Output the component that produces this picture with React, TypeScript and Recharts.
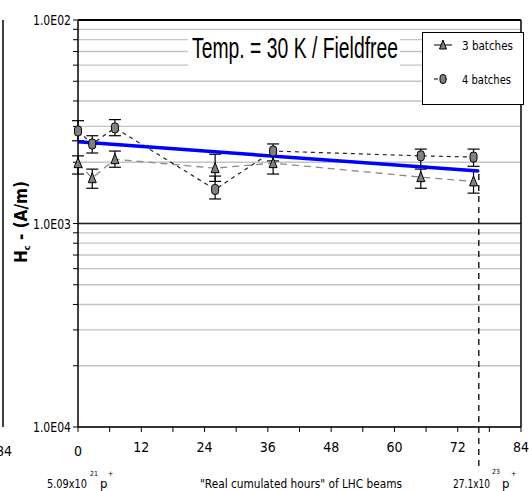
import React from 'react';
import { LineChart, Line, XAxis, YAxis, CartesianGrid, ErrorBar, ReferenceLine } from 'recharts';

// "Real cumulated hours" of LHC beams
const hours = [0, 2.7, 7, 26, 37, 65, 75];

// 4 batches (circle markers)
const hc4 = [2.85e-3, 2.46e-3, 2.95e-3, 1.47e-3, 2.27e-3, 2.15e-3, 2.12e-3];
const hc4Hi = [3.2e-3, 2.7e-3, 3.24e-3, 1.71e-3, 2.46e-3, 2.32e-3, 2.32e-3];
const hc4Lo = [2.55e-3, 2.22e-3, 2.7e-3, 1.32e-3, 2.03e-3, 1.91e-3, 1.91e-3];

// 3 batches (triangle markers)
const hc3 = [1.98e-3, 1.67e-3, 2.07e-3, 1.87e-3, 1.98e-3, 1.69e-3, 1.61e-3];
const hc3Hi = [2.15e-3, 1.85e-3, 2.27e-3, 2.19e-3, 2.15e-3, 1.85e-3, 1.81e-3];
const hc3Lo = [1.75e-3, 1.49e-3, 1.89e-3, 1.61e-3, 1.75e-3, 1.49e-3, 1.41e-3];

// blue trend line
const trendHours = [0, 76];
const trendHc = [2.52e-3, 1.81e-3];

const xTicks = [0, 6, 12, 18, 24, 30, 36, 42, 48, 54, 60, 66, 72, 78, 84];
const xLabelTicks = [12, 24, 36, 48, 60, 72, 84];
const yTicks = [
  0.0001, 0.0002, 0.0003, 0.0004, 0.0005, 0.0006, 0.0007, 0.0008, 0.0009,
  0.001, 0.002, 0.003, 0.004, 0.005, 0.006, 0.007, 0.008, 0.009, 0.01,
];
const yLabels: Record<string, string> = { '0.0001': '1.0E04', '0.001': '1.0E03', '0.01': '1.0E02' };

const NARROW = '"Liberation Sans Narrow", "DejaVu Sans Condensed", "Liberation Sans", Arial, sans-serif';
const SANS = '"Liberation Sans", Arial, sans-serif';

const data4 = hours.map((x, i) => ({ x, y: hc4[i], err: [hc4[i] - hc4Lo[i], hc4Hi[i] - hc4[i]] }));
const data3 = hours.map((x, i) => ({ x, y: hc3[i], err: [hc3[i] - hc3Lo[i], hc3Hi[i] - hc3[i]] }));
const trendData = trendHours.map((x, i) => ({ x, y: trendHc[i] }));

const YTick = (props: any) => {
  const { x, y, payload } = props;
  const lab = yLabels[String(payload.value)];
  if (!lab) return <g />;
  return (
    <text x={x} y={y} dy={5} textAnchor="end" fontSize={14} fontFamily={NARROW} fill="#000"
      textLength={38} lengthAdjust="spacingAndGlyphs">{lab}</text>
  );
};

const xFmt = (v: number) => (xLabelTicks.includes(Number(v)) ? String(v) : '');

const CircleDot = (props: any) => {
  const { cx, cy, index } = props;
  if (cx == null || cy == null) return <g key={`c${index}`} />;
  return <rect key={`c${index}`} x={cx - 3.5} y={cy - 5} width={7} height={10} rx={3} fill="#808080" stroke="#000" strokeWidth={1} />;
};

const TriDot = (props: any) => {
  const { cx, cy, index } = props;
  if (cx == null || cy == null) return <g key={`t${index}`} />;
  return (
    <polygon key={`t${index}`} points={`${cx},${cy - 5.5} ${cx - 4},${cy + 4.5} ${cx + 4},${cy + 4.5}`}
      fill="#808080" stroke="#000" strokeWidth={1} />
  );
};

const VLineShape = (props: any) => {
  const { x1, y1, x2, y2 } = props;
  return <line x1={x1} y1={y1} x2={x2} y2={y2 + 43} stroke="#000" strokeWidth={1.3} strokeDasharray="6 5" />;
};

const ZeroLabel = (props: any) => {
  const vb = props.viewBox || {};
  const x = vb.x ?? 78;
  const y = (vb.y ?? 20) + (vb.height ?? 407);
  return (
    <text x={x} y={y + 29} textAnchor="middle" fontSize={14} fontFamily={NARROW} fill="#000">0</text>
  );
};

export default function App() {
  return (
    <div style={{ position: 'absolute', left: 0, top: 0, width: 529, height: 491, background: '#fff', overflow: 'hidden' }}>
      <LineChart width={529} height={491} margin={{ top: 20, right: 8, bottom: 34, left: 0 }}>
        <CartesianGrid vertical={false} stroke="#c4c4c4" strokeWidth={1.3} />
        <XAxis type="number" dataKey="x" domain={[0, 84]} ticks={xTicks} interval={0} tickFormatter={xFmt}
          tick={{ fontSize: 14, fontFamily: NARROW, fill: '#000', dy: 8 }}
          tickSize={5} height={30} axisLine={{ stroke: '#000', strokeWidth: 1.5 }}
          tickLine={{ stroke: '#000' }} />
        <YAxis type="number" scale="log" domain={[0.0001, 0.01]} ticks={yTicks} interval={0} tick={<YTick />}
          tickSize={5} width={78} allowDataOverflow axisLine={{ stroke: '#000', strokeWidth: 1.5 }}
          tickLine={{ stroke: '#000' }} />
        <ReferenceLine y={0.001} stroke="#222" strokeWidth={1.5} />
        <ReferenceLine y={0.01} stroke="#000" strokeWidth={1.8} />
        <ReferenceLine x={84} stroke="#000" strokeWidth={1.5} />
        <ReferenceLine x={0} stroke="none" label={<ZeroLabel />} />
        <ReferenceLine segment={[{ x: 76, y: 1.75e-3 }, { x: 76, y: 0.0001 }]} shape={<VLineShape />} />
        <Line data={data3} dataKey="y" name="3 batches" type="linear" stroke="#8a8a8a" strokeWidth={1.3}
          strokeDasharray="7 5" dot={<TriDot />} isAnimationActive={false}>
          <ErrorBar dataKey="err" direction="y" width={6} stroke="#000" strokeWidth={1.2} />
        </Line>
        <Line data={data4} dataKey="y" name="4 batches" type="linear" stroke="#222" strokeWidth={1.2}
          strokeDasharray="4 4" dot={<CircleDot />} isAnimationActive={false}>
          <ErrorBar dataKey="err" direction="y" width={6} stroke="#000" strokeWidth={1.2} />
        </Line>
        <Line data={trendData} dataKey="y" name="trend" type="linear" stroke="#0000ff" strokeWidth={3.5}
          dot={false} legendType="none" isAnimationActive={false} />
      </LineChart>
      <svg width={529} height={491} style={{ position: 'absolute', left: 0, top: 0, pointerEvents: 'none' }}>
        <rect x={188} y={30} width={212} height={37} fill="#fff" />
        <text x={192} y={58} fontSize={29} fontFamily={SANS} textLength={206} lengthAdjust="spacingAndGlyphs">Temp. = 30 K / Fieldfree</text>
        <g transform="translate(422,32)">
          <rect x={0.5} y={0.5} width={101} height={72} fill="#fff" stroke="#000" strokeWidth={1} />
          <line x1={12} y1={13} x2={30} y2={13} stroke="#000" strokeWidth={1} />
          <polygon points="21,8 17.5,17 24.5,17" fill="#808080" stroke="#000" strokeWidth={1} />
          <text x={40} y={18} fontSize={13} fontFamily={NARROW} textLength={51} lengthAdjust="spacingAndGlyphs">3 batches</text>
          <line x1={12} y1={47} x2={30} y2={47} stroke="#000" strokeWidth={1} strokeDasharray="4 5" />
          <rect x={18} y={42.5} width={6} height={9} rx={3} fill="#808080" stroke="#000" strokeWidth={1} />
          <text x={40} y={52} fontSize={13} fontFamily={NARROW} textLength={49} lengthAdjust="spacingAndGlyphs">4 batches</text>
        </g>
        <line x1={3} y1={20} x2={3} y2={427} stroke="#000" strokeWidth={1.5} />
        <text x={4} y={456} fontSize={14} fontFamily={NARROW} textAnchor="middle">84</text>
        <text x={27} y={222} fontSize={17} fontWeight="bold" fontFamily={NARROW} textAnchor="middle"
          transform="rotate(-90 27 222)">
          <tspan>H</tspan><tspan fontSize={9} dy={3}>c</tspan><tspan dy={-3}> - (A/m)</tspan>
        </text>
        <text x={47} y={488} fontSize={13} fontFamily={NARROW} textLength={40} lengthAdjust="spacingAndGlyphs">5.09x10</text>
        <text x={90} y={476} fontSize={7} fontFamily={NARROW}>21</text>
        <text x={100} y={488} fontSize={13} fontFamily={NARROW}>p</text>
        <text x={108} y={476} fontSize={7} fontFamily={NARROW}>+</text>
        <text x={200} y={488} fontSize={13} fontFamily={NARROW} textLength={202} lengthAdjust="spacingAndGlyphs">"Real cumulated hours" of LHC beams</text>
        <text x={453} y={488} fontSize={13} fontFamily={NARROW} textLength={37} lengthAdjust="spacingAndGlyphs">27.1x10</text>
        <text x={492} y={474} fontSize={7} fontFamily={NARROW}>23</text>
        <text x={502} y={488} fontSize={13} fontFamily={NARROW}>p</text>
        <text x={511} y={476} fontSize={7} fontFamily={NARROW}>+</text>
      </svg>
    </div>
  );
}
